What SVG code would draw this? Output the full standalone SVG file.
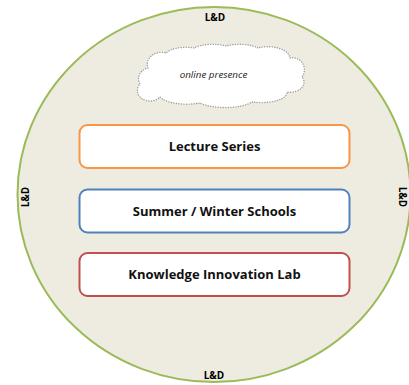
<svg xmlns="http://www.w3.org/2000/svg" width="409" height="385" viewBox="0 0 409 385">
  <style>
    .ring { fill: #EEECE1; stroke: #9BBB59; stroke-width: 2; }
    .edge { font-family: "Open Sans", "Liberation Sans", sans-serif; font-weight: bold; font-size: 10px; fill: #000; text-anchor: middle; }
    .box { fill: #FFFFFF; stroke-width: 2; }
    .label { font-family: "Open Sans", "Liberation Sans", sans-serif; font-weight: bold; font-size: 13px; fill: #111; text-anchor: middle; }
    .cloud { fill: #FFFFFF; stroke: #9A9A9A; stroke-width: 1.4; stroke-dasharray: 0.1 2.4; stroke-linecap: round; }
    .cloud-text { font-family: "Open Sans", "Liberation Sans", sans-serif; font-style: italic; font-size: 9.8px; fill: #222; text-anchor: middle; }
  </style>

  <!-- outer L&D ring -->
  <g id="ld-ring">
    <ellipse class="ring" cx="214" cy="194.5" rx="196.5" ry="187.5"/>
    <text class="edge" x="215" y="20.5">L&amp;D</text>
    <text class="edge" x="214" y="379">L&amp;D</text>
    <text class="edge" transform="translate(28.5,197) rotate(-90)" x="0" y="0">L&amp;D</text>
    <text class="edge" transform="translate(398.5,197) rotate(90)" x="0" y="0">L&amp;D</text>
  </g>

  <!-- cloud -->
  <g id="online-presence">
    <path class="cloud" d="M 148,68
      A 14,12 0 0 1 166,53
      A 22,10 0 0 1 194,48
      A 24,10 0 0 1 226,46
      A 24,10 0 0 1 258,48
      A 22,12 0 0 1 290,58
      A 12,12 0 0 1 302,77
      A 14,10 0 0 1 287,92
      A 26,10 0 0 1 252,102
      A 30,10 0 0 1 200,103
      A 28,10 0 0 1 160,97
      A 12,10 0 0 1 140,84
      A 12,11 0 0 1 148,68 Z"/>
    <text class="cloud-text" x="213.5" y="78">online presence</text>
  </g>

  <g id="lecture-series">
    <rect class="box" x="79.5" y="125" width="270" height="43" rx="8" stroke="#F79646"/>
    <text class="label" x="214.5" y="151">Lecture Series</text>
  </g>

  <g id="summer-winter-schools">
    <rect class="box" x="79.5" y="189.5" width="270" height="43" rx="8" stroke="#4F81BD"/>
    <text class="label" x="214.5" y="215.5">Summer / Winter Schools</text>
  </g>

  <g id="knowledge-innovation-lab">
    <rect class="box" x="79.5" y="253" width="270" height="43" rx="8" stroke="#C0504D"/>
    <text class="label" x="214.5" y="279">Knowledge Innovation Lab</text>
  </g>

  <g id="connectors"/>
</svg>
